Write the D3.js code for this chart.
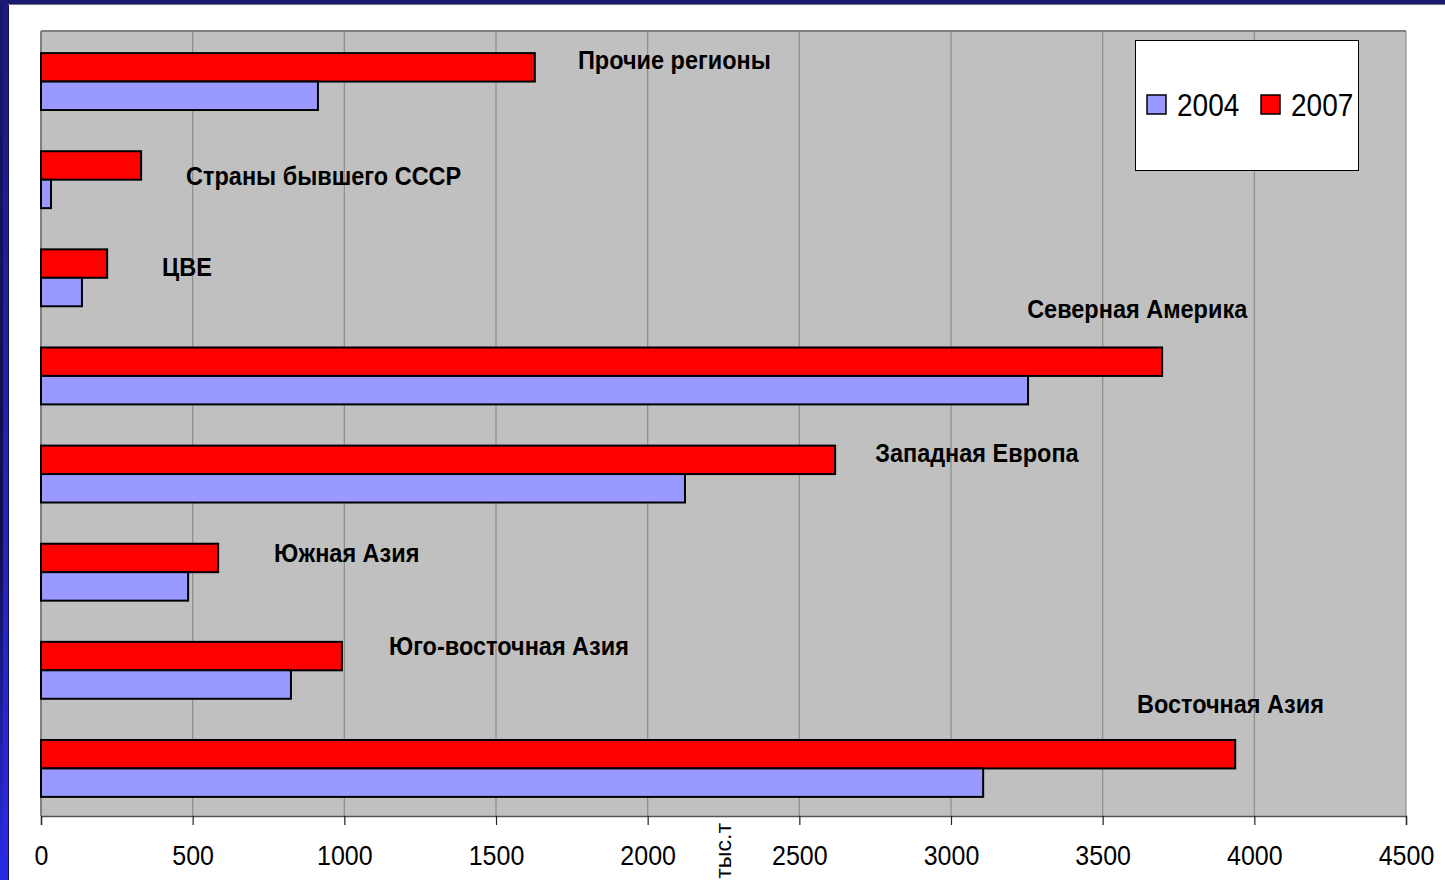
<!DOCTYPE html>
<html><head><meta charset="utf-8">
<script src="https://cdn.jsdelivr.net/npm/d3@7"></script>
<style>html,body{margin:0;padding:0;background:#fff;overflow:hidden}</style>
</head><body>
<svg id="c" width="1445" height="880"></svg>
<script>
const categories = ["Прочие регионы","Страны бывшего СССР","ЦВЕ","Северная Америка","Западная Европа","Южная Азия","Юго-восточная Азия","Восточная Азия"];
const values2004 = [913, 33, 135, 3254, 2123, 485, 824, 3106];
const values2007 = [1628, 330, 218, 3696, 2618, 584, 992, 3937];
const seriesNames = ["2004","2007"];
const xTicks = [0,500,1000,1500,2000,2500,3000,3500,4000,4500];
const axisTitle = "тыс.т";
// label anchors in data units (x) and band fraction (y)
const labelValue = [1770, 478, 399, 3251, 2750, 768, 1147, 3613];
const labelBandPos = [0.39, 0.57, 0.50, -0.08, 0.39, 0.41, 0.36, -0.05];

(function(){
const svg = d3.select("#c");
const W=1445,H=880;
const pL=41,pR=1406,pT=31,pB=816;
const colors={"2004":"#9999FF","2007":"#FF0000"};
const font='"Liberation Sans", Arial, sans-serif';

// frame
const defs=svg.append("defs");
const g1=defs.append("linearGradient").attr("id","lg").attr("x1",0).attr("y1",0).attr("x2",0).attr("y2",1);
g1.append("stop").attr("offset","0").attr("stop-color","#1a1a80");
g1.append("stop").attr("offset","1").attr("stop-color","#2a2ae6");
const g2=defs.append("linearGradient").attr("id","lg2").attr("x1",0).attr("y1",0).attr("x2",0).attr("y2",1);
g2.append("stop").attr("offset","0").attr("stop-color","#16166e");
g2.append("stop").attr("offset","0.6").attr("stop-color","#0e0e44");
g2.append("stop").attr("offset","1").attr("stop-color","#2a2ae6");
svg.append("rect").attr("x",0).attr("y",0).attr("width",W).attr("height",H).attr("fill","#fff");
svg.append("rect").attr("x",0).attr("y",0).attr("width",9).attr("height",H).attr("fill","url(#lg)");
svg.append("rect").attr("x",0).attr("y",0).attr("width",3).attr("height",H).attr("fill","url(#lg2)");
svg.append("rect").attr("x",0).attr("y",0).attr("width",W).attr("height",4).attr("fill","#1a1a72");
svg.append("line").attr("x1",8.5).attr("x2",8.5).attr("y1",4).attr("y2",H).attr("stroke","#141440").attr("stroke-width",1);
svg.append("line").attr("x1",8).attr("x2",W).attr("y1",4.5).attr("y2",4.5).attr("stroke","#777").attr("stroke-width",1);

const x=d3.scaleLinear().domain([0,4500]).range([pL,pR]);
const y=d3.scaleBand().domain(categories).range([pT+1.5,pB+1.5]).paddingInner(0.42).paddingOuter(0.21);
const ys=d3.scaleBand().domain(["2007","2004"]).range([0,y.bandwidth()]);
const band=d3.scaleBand().domain(categories).range([pT,pB]);

svg.append("rect").attr("x",pL).attr("y",pT).attr("width",pR-pL).attr("height",pB-pT).attr("fill","#C0C0C0");
// grid
svg.append("g").selectAll("line").data(xTicks.slice(1)).join("line")
  .attr("x1",d=>x(d)).attr("x2",d=>x(d)).attr("y1",pT).attr("y2",pB)
  .attr("stroke","#8c8c8c").attr("stroke-width",1.2);
// plot border
svg.append("line").attr("x1",pL).attr("x2",pR).attr("y1",pT).attr("y2",pT).attr("stroke","#808080").attr("stroke-width",2);
svg.append("line").attr("x1",pL).attr("x2",pL).attr("y1",pT).attr("y2",pB).attr("stroke","#808080").attr("stroke-width",2);

// bars
const rows=categories.map((c,i)=>({c,v04:values2004[i],v07:values2007[i]}));
const gb=svg.append("g");
rows.forEach(r=>{
  [["2007",r.v07],["2004",r.v04]].forEach(([s,v])=>{
    gb.append("rect").attr("x",x(0)).attr("y",y(r.c)+ys(s)).attr("width",x(v)-x(0)).attr("height",ys.bandwidth())
      .attr("fill",colors[s]).attr("stroke","#000").attr("stroke-width",2);
  });
});

// axis
const ax=svg.append("g").attr("transform",`translate(0,${pB})`).call(d3.axisBottom(x).tickValues(xTicks).tickSize(9).tickFormat(d3.format("d")));
ax.select(".domain").attr("stroke","#555").attr("stroke-width",1.5);
ax.selectAll(".tick line").attr("stroke","#222").attr("stroke-width",1.2);
ax.selectAll(".tick text").attr("font-family",font).attr("font-size",25).attr("fill","#000")
  .attr("y",0).attr("dy",0).attr("transform","translate(0,49) scale(1,1.13)");

// axis title
svg.append("text").attr("transform",`translate(731,823) rotate(-90) scale(1.1,1.05)`)
  .attr("text-anchor","end").attr("font-family",font).attr("font-size",21).attr("fill","#000").text(axisTitle);

// category labels
svg.append("g").selectAll("text").data(categories).join("text")
  .attr("transform",(d,i)=>`translate(${x(labelValue[i])},${band(d)+band.bandwidth()*labelBandPos[i]}) scale(1,1.07)`)
  .attr("font-family",font).attr("font-weight","bold").attr("font-size",23.5).attr("fill","#000").text(d=>d);

// legend
const lg=svg.append("g");
lg.append("rect").attr("x",1135.5).attr("y",40.5).attr("width",223).attr("height",130).attr("fill","#fff").attr("stroke","#000").attr("stroke-width",1);
const legX=[1147,1261];
seriesNames.forEach((s,i)=>{
  lg.append("rect").attr("x",legX[i]).attr("y",95).attr("width",19).attr("height",19).attr("fill",colors[s]).attr("stroke","#000").attr("stroke-width",1.5);
  lg.append("text").attr("transform",`translate(${legX[i]+30},116) scale(1,1.13)`)
    .attr("font-family",font).attr("font-size",28).attr("fill","#000").text(s);
});
})();
</script>
</body></html>
